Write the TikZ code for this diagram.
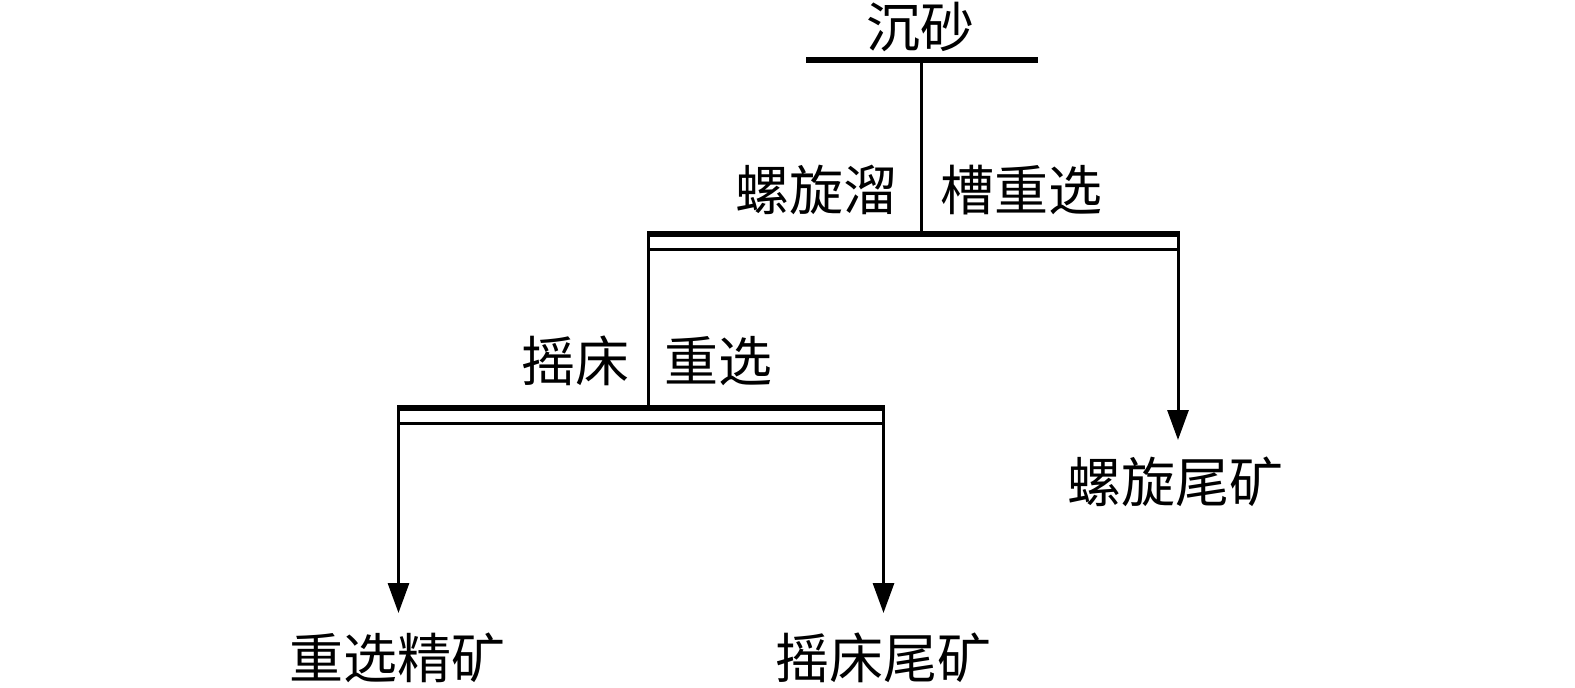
\documentclass[tikz,border=0pt]{standalone}
\usepackage{fontspec}
\newfontfamily\cjk{Noto Sans CJK SC}
\usetikzlibrary{arrows.meta}
\begin{document}
\begin{tikzpicture}[x=1pt,y=-1pt,
  lbl/.style={font=\cjk\fontsize{54}{60}\selectfont, inner sep=0pt},
  thickbar/.style={line width=6pt},
  thinline/.style={line width=3pt},
  flow/.style={line width=3pt,-{Triangle[width=21pt,length=30pt]}}]
\useasboundingbox (0,0) rectangle (1575,688);
% feed bar
\coordinate (f1) at (806,60);
\coordinate (f2) at (1038,60);
\coordinate (fm) at (921,60);
\draw[thickbar] (f1) -- (f2);
\node[lbl] (feed) at (920,27) {沉砂};
% spiral chute bar
\coordinate (s1) at (647,234);
\coordinate (s2) at (1180,234);
\coordinate (sm) at (921,234);
\coordinate (sl) at (648.5,234);
\coordinate (sr) at (1178,234);
\draw[thickbar] (s1) -- (s2);
\draw[thinline] (648.5,249.5) -- (1178,249.5);
\draw[thinline] (fm) -- (sm);
\node[lbl, anchor=east] (sa) at (898,190) {螺旋溜};
\node[lbl, anchor=west] (sb) at (940,190) {槽重选};
% shaking table bar
\coordinate (t1) at (397,408);
\coordinate (t2) at (885,408);
\coordinate (tm) at (648.5,408);
\coordinate (tl) at (398.5,408);
\coordinate (tr) at (883.5,408);
\draw[thickbar] (t1) -- (t2);
\draw[thinline] (398.5,423) -- (883.5,423);
\draw[thinline] (sl) -- (tm);
\node[lbl, anchor=east] (ta) at (630,361) {摇床};
\node[lbl, anchor=west] (tb) at (664,361) {重选};
% products
\coordinate (p1) at (1178,440);
\coordinate (p2) at (398.5,613);
\coordinate (p3) at (883.5,613);
\draw[flow] (sr) -- (p1);
\draw[flow] (tl) -- (p2);
\draw[flow] (tr) -- (p3);
\node[lbl] (o1) at (1175,482) {螺旋尾矿};
\node[lbl] (o2) at (397,658) {重选精矿};
\node[lbl] (o3) at (883,658) {摇床尾矿};
\end{tikzpicture}
\end{document}
